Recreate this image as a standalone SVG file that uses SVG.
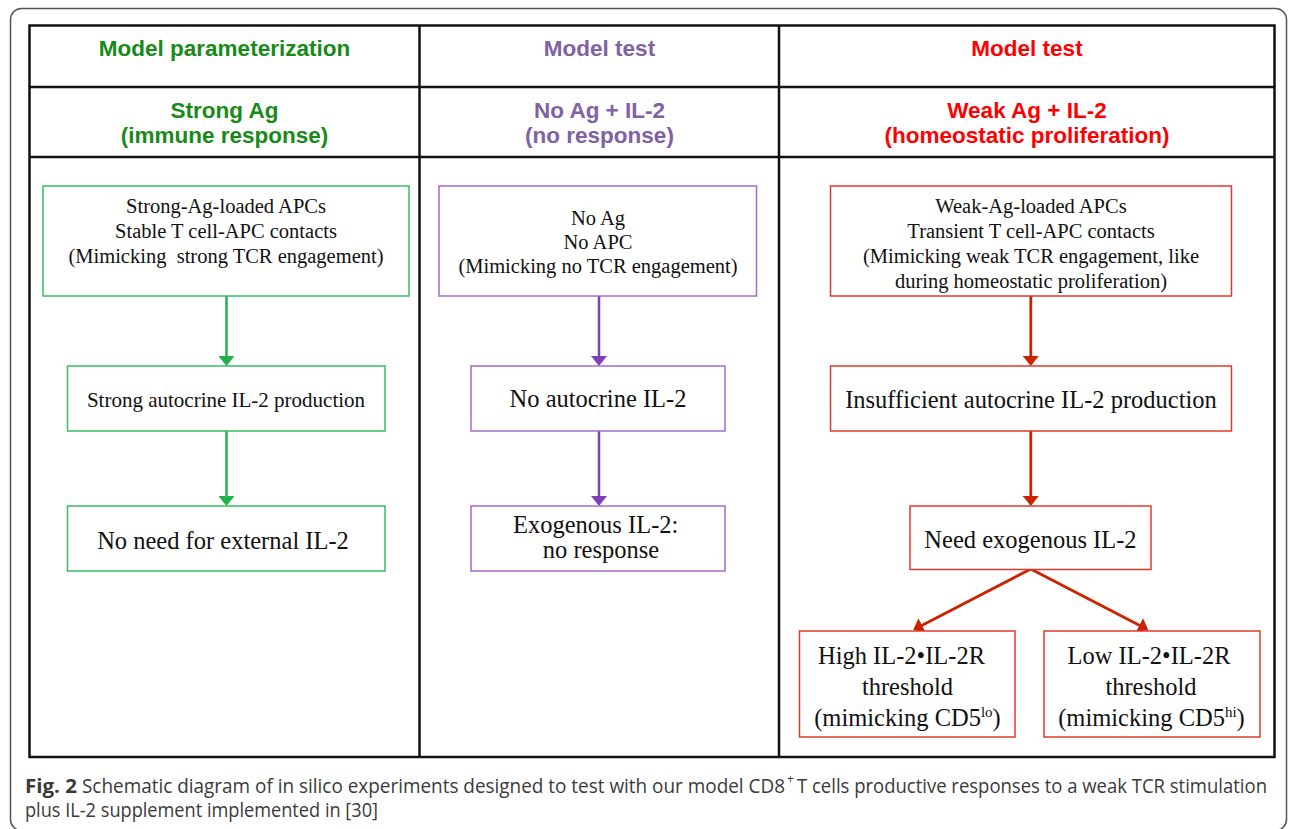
<svg xmlns="http://www.w3.org/2000/svg" width="1290" height="829" viewBox="0 0 1290 829">
<style>
.hd{font-family:"Liberation Sans",Arial,sans-serif;font-weight:bold;font-size:22.5px;text-anchor:middle}
.g{fill:#178a17}.p{fill:#8061a3}.r{fill:#ff0000}
.bx{fill:#fff;stroke-width:1.5}
.bg{stroke:#35bf60}.bp{stroke:#a668d0}.br{stroke:#e3392c}
.t{font-family:"Liberation Serif","Times New Roman",serif;fill:#111;text-anchor:middle}
.s{font-size:20.5px}.l{font-size:24.5px}
.grid{fill:none;stroke:#111;stroke-width:2.5}
.cg{stroke:#22b24c;stroke-width:2.5;fill:none}
.cp{stroke:#7f3fb8;stroke-width:2.5;fill:none}
.cr{stroke:#cc2200;stroke-width:2.8;fill:none}
.cap{font-family:"Open Sans","Liberation Sans",sans-serif;font-size:20px;fill:#3a3a3a}
.sup{font-family:"Open Sans","Liberation Sans",sans-serif;font-size:12px;fill:#3a3a3a}
.sp{font-size:15px}
</style>
<defs>
<marker id="ag" viewBox="0 0 10 16" refX="8" refY="8" markerWidth="10" markerHeight="16" markerUnits="userSpaceOnUse" orient="auto"><path d="M0,0 L10,8 L0,16 z" fill="#22b24c"/></marker>
<marker id="ap" viewBox="0 0 10 16" refX="8" refY="8" markerWidth="10" markerHeight="16" markerUnits="userSpaceOnUse" orient="auto"><path d="M0,0 L10,8 L0,16 z" fill="#7f3fb8"/></marker>
<marker id="ar" viewBox="0 0 10 16" refX="8" refY="8" markerWidth="10" markerHeight="16" markerUnits="userSpaceOnUse" orient="auto"><path d="M0,0 L10,8 L0,16 z" fill="#cc2200"/></marker>
</defs>
<rect width="1290" height="829" fill="#fff"/>
<rect x="10.5" y="8.5" width="1276" height="822" rx="11" fill="none" stroke="#555" stroke-width="1.5"/>
<g id="table">
<rect class="grid" x="29.5" y="25.5" width="1245" height="731.5"/>
<line class="grid" x1="29.5" y1="87" x2="1274.5" y2="87"/>
<line class="grid" x1="29.5" y1="157" x2="1274.5" y2="157"/>
<line class="grid" x1="419.5" y1="25.5" x2="419.5" y2="757"/>
<line class="grid" x1="779" y1="25.5" x2="779" y2="757"/>
</g>
<g id="headers">
<text class="hd g" x="224.5" y="56">Model parameterization</text>
<text class="hd g" x="224.5" y="118">Strong Ag</text>
<text class="hd g" x="224.5" y="143">(immune response)</text>
<text class="hd p" x="599.5" y="56">Model test</text>
<text class="hd p" x="599.5" y="118">No Ag + IL-2</text>
<text class="hd p" x="599.5" y="143">(no response)</text>
<text class="hd r" x="1027" y="56">Model test</text>
<text class="hd r" x="1027" y="118">Weak Ag + IL-2</text>
<text class="hd r" x="1027" y="143">(homeostatic proliferation)</text>
</g>
<g id="connectors">
<line class="cg" x1="226.5" y1="296" x2="226.5" y2="364" marker-end="url(#ag)"/>
<line class="cg" x1="226.5" y1="431" x2="226.5" y2="504" marker-end="url(#ag)"/>
<line class="cp" x1="599" y1="296" x2="599" y2="364" marker-end="url(#ap)"/>
<line class="cp" x1="599" y1="431" x2="599" y2="504" marker-end="url(#ap)"/>
<line class="cr" x1="1030.8" y1="296" x2="1030.8" y2="364" marker-end="url(#ar)"/>
<line class="cr" x1="1030.8" y1="431" x2="1030.8" y2="504" marker-end="url(#ar)"/>
<line class="cr" x1="1030.8" y1="569" x2="915" y2="629" marker-end="url(#ar)"/>
<line class="cr" x1="1030.8" y1="569" x2="1146.5" y2="629" marker-end="url(#ar)"/>
</g>
<g id="n_strong_apc">
<rect class="bx bg" x="43" y="186" width="366" height="110"/>
<text class="t s" x="226" y="213">Strong-Ag-loaded APCs</text>
<text class="t s" x="226" y="238">Stable T cell-APC contacts</text>
<text class="t s" x="226" y="263" xml:space="preserve">(Mimicking  strong TCR engagement)</text>
</g>
<g id="n_strong_il2">
<rect class="bx bg" x="67.5" y="366" width="317.5" height="65"/>
<text class="t" x="226" y="407" font-size="21">Strong autocrine IL-2 production</text>
</g>
<g id="n_no_need">
<rect class="bx bg" x="67.5" y="506" width="317.5" height="65"/>
<text class="t l" x="223" y="549">No need for external IL-2</text>
</g>
<g id="n_no_ag">
<rect class="bx bp" x="439" y="186" width="317.5" height="110"/>
<text class="t s" x="598" y="225">No Ag</text>
<text class="t s" x="598" y="249">No APC</text>
<text class="t s" x="598" y="273">(Mimicking no TCR engagement)</text>
</g>
<g id="n_no_autocrine">
<rect class="bx bp" x="471" y="366" width="254" height="65"/>
<text class="t l" x="598" y="407">No autocrine IL-2</text>
</g>
<g id="n_exogenous">
<rect class="bx bp" x="471" y="506" width="254" height="65"/>
<text class="t l" x="595.7" y="533">Exogenous IL-2:</text>
<text class="t l" x="601" y="558">no response</text>
</g>
<g id="n_weak_apc">
<rect class="bx br" x="830.5" y="186" width="401" height="110"/>
<text class="t s" x="1031" y="213">Weak-Ag-loaded APCs</text>
<text class="t s" x="1031" y="238">Transient T cell-APC contacts</text>
<text class="t s" x="1031" y="263">(Mimicking weak TCR engagement, like</text>
<text class="t s" x="1031" y="288">during homeostatic proliferation)</text>
</g>
<g id="n_insufficient">
<rect class="bx br" x="830.5" y="366" width="401" height="65"/>
<text class="t l" x="1031" y="408">Insufficient autocrine IL-2 production</text>
</g>
<g id="n_need">
<rect class="bx br" x="910" y="506" width="241" height="63.5"/>
<text class="t l" x="1030.5" y="548">Need exogenous IL-2</text>
</g>
<g id="n_high">
<rect class="bx br" x="799.5" y="631" width="215.5" height="106"/>
<text class="t l" x="901.5" y="664">High IL-2•IL-2R</text>
<text class="t l" x="907.5" y="695">threshold</text>
<text class="t l" x="907.5" y="726">(mimicking CD5<tspan class="sp" dy="-9">lo</tspan><tspan dy="9">)</tspan></text>
</g>
<g id="n_low">
<rect class="bx br" x="1044" y="631" width="216" height="106"/>
<text class="t l" x="1149" y="664">Low IL-2•IL-2R</text>
<text class="t l" x="1151" y="695">threshold</text>
<text class="t l" x="1151.5" y="726">(mimicking CD5<tspan class="sp" dy="-9">hi</tspan><tspan dy="9">)</tspan></text>
</g>
<g id="caption">
<text class="cap" x="25" y="793" font-weight="bold" textLength="52" lengthAdjust="spacingAndGlyphs">Fig. 2</text>
<text class="cap" x="82" y="793" textLength="703" lengthAdjust="spacingAndGlyphs">Schematic diagram of in silico experiments designed to test with our model CD8</text>
<text class="sup" x="787" y="783">+</text>
<text class="cap" x="797" y="793" textLength="470" lengthAdjust="spacingAndGlyphs">T cells productive responses to a weak TCR stimulation</text>
<text class="cap" x="25" y="817" textLength="353" lengthAdjust="spacingAndGlyphs">plus IL-2 supplement implemented in [30]</text>
</g>
</svg>
